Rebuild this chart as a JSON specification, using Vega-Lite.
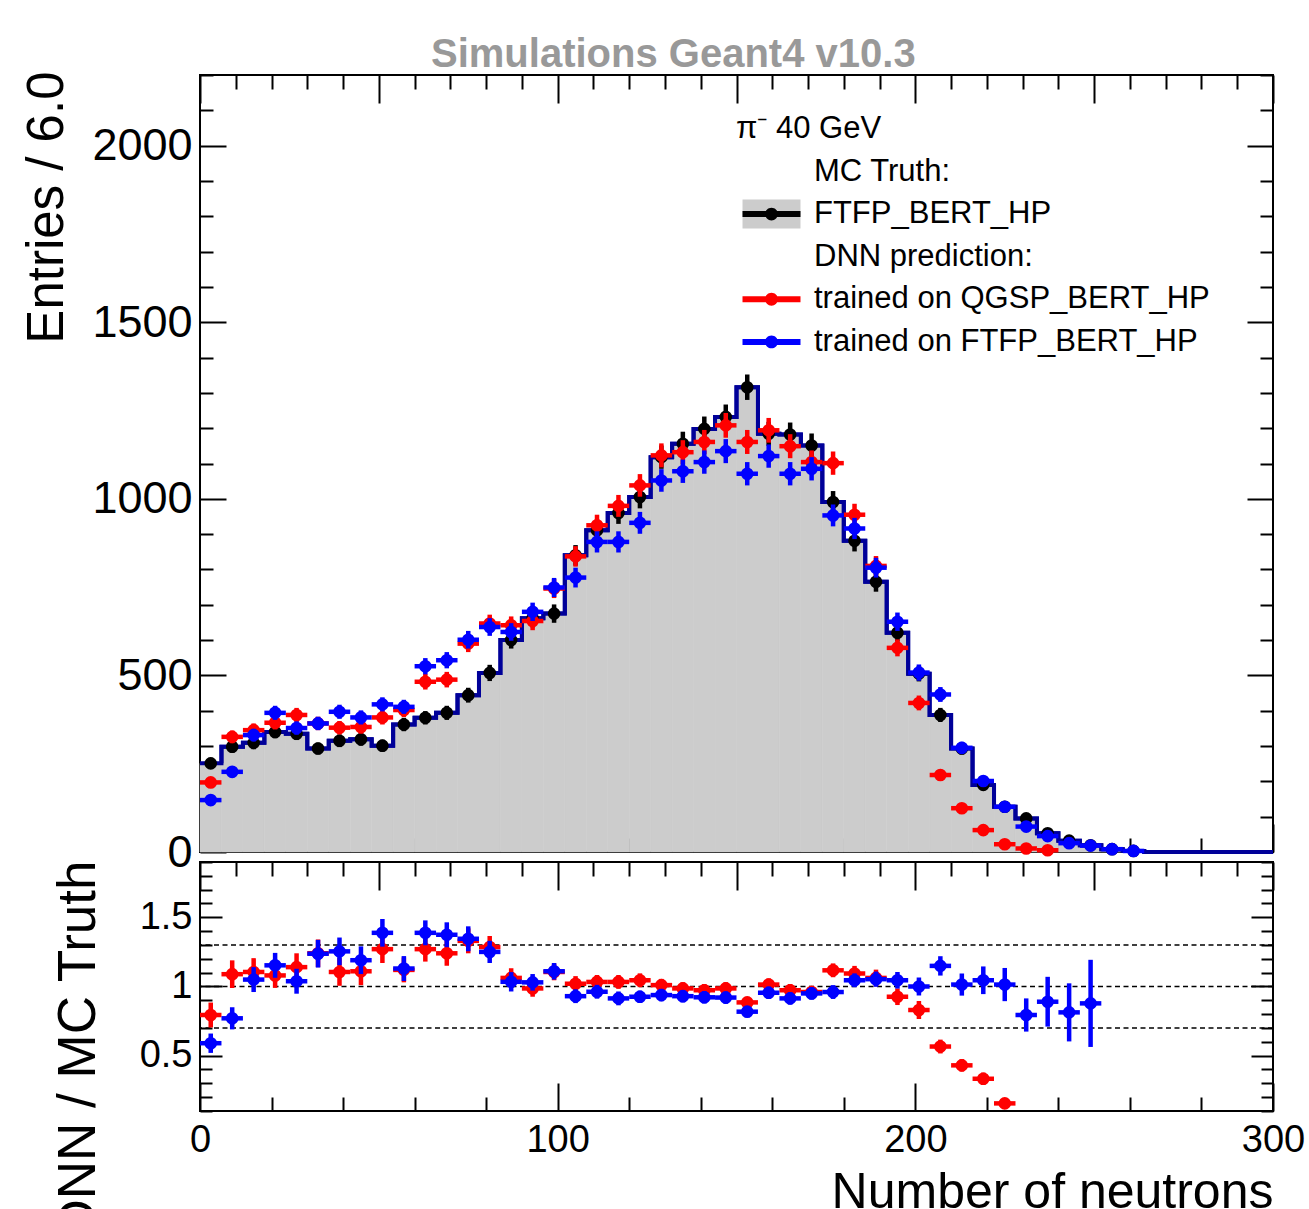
{
  "$schema": "https://vega.github.io/schema/vega-lite/v6.json",
  "background": "white",
  "padding": {"left": 19, "top": 34, "right": 5, "bottom": 5},
  "bounds": "flush",
  "spacing": 10,
  "config": {
    "font": "Liberation Sans",
    "view": {"stroke": "black", "strokeWidth": 2},
    "axis": {"grid": false, "domain": false, "tickColor": "black", "tickWidth": 2, "labelColor": "black", "titleColor": "black", "titleFontWeight": "normal", "labelFont": "Liberation Sans", "titleFont": "Liberation Sans"}
  },
  "datasets": {
    "top": [
      {"s":"FTFP_BERT_HP","x":3,"lo":0,"hi":6,"v":251,"e":16},
      {"s":"FTFP_BERT_HP","x":9,"lo":6,"hi":12,"v":298,"e":17},
      {"s":"FTFP_BERT_HP","x":15,"lo":12,"hi":18,"v":309,"e":18},
      {"s":"FTFP_BERT_HP","x":21,"lo":18,"hi":24,"v":340,"e":18},
      {"s":"FTFP_BERT_HP","x":27,"lo":24,"hi":30,"v":335,"e":18},
      {"s":"FTFP_BERT_HP","x":33,"lo":30,"hi":36,"v":293,"e":17},
      {"s":"FTFP_BERT_HP","x":39,"lo":36,"hi":42,"v":315,"e":18},
      {"s":"FTFP_BERT_HP","x":45,"lo":42,"hi":48,"v":319,"e":18},
      {"s":"FTFP_BERT_HP","x":51,"lo":48,"hi":54,"v":301,"e":17},
      {"s":"FTFP_BERT_HP","x":57,"lo":54,"hi":60,"v":361,"e":19},
      {"s":"FTFP_BERT_HP","x":63,"lo":60,"hi":66,"v":380,"e":19},
      {"s":"FTFP_BERT_HP","x":69,"lo":66,"hi":72,"v":394,"e":20},
      {"s":"FTFP_BERT_HP","x":75,"lo":72,"hi":78,"v":444,"e":21},
      {"s":"FTFP_BERT_HP","x":81,"lo":78,"hi":84,"v":507,"e":23},
      {"s":"FTFP_BERT_HP","x":87,"lo":84,"hi":90,"v":600,"e":24},
      {"s":"FTFP_BERT_HP","x":93,"lo":90,"hi":96,"v":662,"e":26},
      {"s":"FTFP_BERT_HP","x":99,"lo":96,"hi":102,"v":675,"e":26},
      {"s":"FTFP_BERT_HP","x":105,"lo":102,"hi":108,"v":840,"e":29},
      {"s":"FTFP_BERT_HP","x":111,"lo":108,"hi":114,"v":911,"e":30},
      {"s":"FTFP_BERT_HP","x":117,"lo":114,"hi":120,"v":960,"e":31},
      {"s":"FTFP_BERT_HP","x":123,"lo":120,"hi":126,"v":1005,"e":32},
      {"s":"FTFP_BERT_HP","x":129,"lo":126,"hi":132,"v":1118,"e":33},
      {"s":"FTFP_BERT_HP","x":135,"lo":132,"hi":138,"v":1156,"e":34},
      {"s":"FTFP_BERT_HP","x":141,"lo":138,"hi":144,"v":1198,"e":35},
      {"s":"FTFP_BERT_HP","x":147,"lo":144,"hi":150,"v":1232,"e":35},
      {"s":"FTFP_BERT_HP","x":153,"lo":150,"hi":156,"v":1316,"e":36},
      {"s":"FTFP_BERT_HP","x":159,"lo":156,"hi":162,"v":1184,"e":34},
      {"s":"FTFP_BERT_HP","x":165,"lo":162,"hi":168,"v":1182,"e":34},
      {"s":"FTFP_BERT_HP","x":171,"lo":168,"hi":174,"v":1151,"e":34},
      {"s":"FTFP_BERT_HP","x":177,"lo":174,"hi":180,"v":991,"e":31},
      {"s":"FTFP_BERT_HP","x":183,"lo":180,"hi":186,"v":881,"e":30},
      {"s":"FTFP_BERT_HP","x":189,"lo":186,"hi":192,"v":765,"e":28},
      {"s":"FTFP_BERT_HP","x":195,"lo":192,"hi":198,"v":621,"e":25},
      {"s":"FTFP_BERT_HP","x":201,"lo":198,"hi":204,"v":505,"e":22},
      {"s":"FTFP_BERT_HP","x":207,"lo":204,"hi":210,"v":388,"e":20},
      {"s":"FTFP_BERT_HP","x":213,"lo":210,"hi":216,"v":293,"e":17},
      {"s":"FTFP_BERT_HP","x":219,"lo":216,"hi":222,"v":190,"e":14},
      {"s":"FTFP_BERT_HP","x":225,"lo":222,"hi":228,"v":128,"e":11},
      {"s":"FTFP_BERT_HP","x":231,"lo":228,"hi":234,"v":95,"e":10},
      {"s":"FTFP_BERT_HP","x":237,"lo":234,"hi":240,"v":53,"e":7},
      {"s":"FTFP_BERT_HP","x":243,"lo":240,"hi":246,"v":32,"e":6},
      {"s":"FTFP_BERT_HP","x":249,"lo":246,"hi":252,"v":19,"e":4},
      {"s":"FTFP_BERT_HP","x":255,"lo":252,"hi":258,"v":8,"e":3},
      {"s":"FTFP_BERT_HP","x":261,"lo":258,"hi":264,"v":3,"e":2},
      {"s":"FTFP_BERT_HP","x":267,"lo":264,"hi":270,"v":0,"e":0},
      {"s":"FTFP_BERT_HP","x":273,"lo":270,"hi":276,"v":0,"e":0},
      {"s":"FTFP_BERT_HP","x":279,"lo":276,"hi":282,"v":0,"e":0},
      {"s":"FTFP_BERT_HP","x":285,"lo":282,"hi":288,"v":0,"e":0},
      {"s":"FTFP_BERT_HP","x":291,"lo":288,"hi":294,"v":0,"e":0},
      {"s":"FTFP_BERT_HP","x":297,"lo":294,"hi":300,"v":0,"e":0},
      {"s":"trained on QGSP_BERT_HP","x":3,"lo":0,"hi":6,"v":197,"e":14},
      {"s":"trained on QGSP_BERT_HP","x":9,"lo":6,"hi":12,"v":326,"e":18},
      {"s":"trained on QGSP_BERT_HP","x":15,"lo":12,"hi":18,"v":345,"e":19},
      {"s":"trained on QGSP_BERT_HP","x":21,"lo":18,"hi":24,"v":366,"e":19},
      {"s":"trained on QGSP_BERT_HP","x":27,"lo":24,"hi":30,"v":388,"e":20},
      {"s":"trained on QGSP_BERT_HP","x":33,"lo":30,"hi":36,"v":364,"e":19},
      {"s":"trained on QGSP_BERT_HP","x":39,"lo":36,"hi":42,"v":352,"e":19},
      {"s":"trained on QGSP_BERT_HP","x":45,"lo":42,"hi":48,"v":354,"e":19},
      {"s":"trained on QGSP_BERT_HP","x":51,"lo":48,"hi":54,"v":381,"e":20},
      {"s":"trained on QGSP_BERT_HP","x":57,"lo":54,"hi":60,"v":402,"e":20},
      {"s":"trained on QGSP_BERT_HP","x":63,"lo":60,"hi":66,"v":482,"e":22},
      {"s":"trained on QGSP_BERT_HP","x":69,"lo":66,"hi":72,"v":488,"e":22},
      {"s":"trained on QGSP_BERT_HP","x":75,"lo":72,"hi":78,"v":590,"e":24},
      {"s":"trained on QGSP_BERT_HP","x":81,"lo":78,"hi":84,"v":647,"e":25},
      {"s":"trained on QGSP_BERT_HP","x":87,"lo":84,"hi":90,"v":642,"e":25},
      {"s":"trained on QGSP_BERT_HP","x":93,"lo":90,"hi":96,"v":654,"e":26},
      {"s":"trained on QGSP_BERT_HP","x":99,"lo":96,"hi":102,"v":746,"e":27},
      {"s":"trained on QGSP_BERT_HP","x":105,"lo":102,"hi":108,"v":837,"e":29},
      {"s":"trained on QGSP_BERT_HP","x":111,"lo":108,"hi":114,"v":925,"e":30},
      {"s":"trained on QGSP_BERT_HP","x":117,"lo":114,"hi":120,"v":980,"e":31},
      {"s":"trained on QGSP_BERT_HP","x":123,"lo":120,"hi":126,"v":1038,"e":32},
      {"s":"trained on QGSP_BERT_HP","x":129,"lo":126,"hi":132,"v":1123,"e":34},
      {"s":"trained on QGSP_BERT_HP","x":135,"lo":132,"hi":138,"v":1132,"e":34},
      {"s":"trained on QGSP_BERT_HP","x":141,"lo":138,"hi":144,"v":1161,"e":34},
      {"s":"trained on QGSP_BERT_HP","x":147,"lo":144,"hi":150,"v":1208,"e":35},
      {"s":"trained on QGSP_BERT_HP","x":153,"lo":150,"hi":156,"v":1161,"e":34},
      {"s":"trained on QGSP_BERT_HP","x":159,"lo":156,"hi":162,"v":1194,"e":35},
      {"s":"trained on QGSP_BERT_HP","x":165,"lo":162,"hi":168,"v":1149,"e":34},
      {"s":"trained on QGSP_BERT_HP","x":171,"lo":168,"hi":174,"v":1104,"e":33},
      {"s":"trained on QGSP_BERT_HP","x":177,"lo":174,"hi":180,"v":1101,"e":33},
      {"s":"trained on QGSP_BERT_HP","x":183,"lo":180,"hi":186,"v":955,"e":31},
      {"s":"trained on QGSP_BERT_HP","x":189,"lo":186,"hi":192,"v":810,"e":28},
      {"s":"trained on QGSP_BERT_HP","x":195,"lo":192,"hi":198,"v":578,"e":24},
      {"s":"trained on QGSP_BERT_HP","x":201,"lo":198,"hi":204,"v":422,"e":21},
      {"s":"trained on QGSP_BERT_HP","x":207,"lo":204,"hi":210,"v":218,"e":15},
      {"s":"trained on QGSP_BERT_HP","x":213,"lo":210,"hi":216,"v":124,"e":11},
      {"s":"trained on QGSP_BERT_HP","x":219,"lo":216,"hi":222,"v":62,"e":8},
      {"s":"trained on QGSP_BERT_HP","x":225,"lo":222,"hi":228,"v":22,"e":5},
      {"s":"trained on QGSP_BERT_HP","x":231,"lo":228,"hi":234,"v":10,"e":3},
      {"s":"trained on QGSP_BERT_HP","x":237,"lo":234,"hi":240,"v":5,"e":2},
      {"s":"trained on FTFP_BERT_HP","x":3,"lo":0,"hi":6,"v":147,"e":12},
      {"s":"trained on FTFP_BERT_HP","x":9,"lo":6,"hi":12,"v":227,"e":15},
      {"s":"trained on FTFP_BERT_HP","x":15,"lo":12,"hi":18,"v":331,"e":18},
      {"s":"trained on FTFP_BERT_HP","x":21,"lo":18,"hi":24,"v":394,"e":20},
      {"s":"trained on FTFP_BERT_HP","x":27,"lo":24,"hi":30,"v":351,"e":19},
      {"s":"trained on FTFP_BERT_HP","x":33,"lo":30,"hi":36,"v":364,"e":19},
      {"s":"trained on FTFP_BERT_HP","x":39,"lo":36,"hi":42,"v":397,"e":20},
      {"s":"trained on FTFP_BERT_HP","x":45,"lo":42,"hi":48,"v":381,"e":20},
      {"s":"trained on FTFP_BERT_HP","x":51,"lo":48,"hi":54,"v":418,"e":20},
      {"s":"trained on FTFP_BERT_HP","x":57,"lo":54,"hi":60,"v":411,"e":20},
      {"s":"trained on FTFP_BERT_HP","x":63,"lo":60,"hi":66,"v":526,"e":23},
      {"s":"trained on FTFP_BERT_HP","x":69,"lo":66,"hi":72,"v":543,"e":23},
      {"s":"trained on FTFP_BERT_HP","x":75,"lo":72,"hi":78,"v":601,"e":25},
      {"s":"trained on FTFP_BERT_HP","x":81,"lo":78,"hi":84,"v":637,"e":25},
      {"s":"trained on FTFP_BERT_HP","x":87,"lo":84,"hi":90,"v":623,"e":25},
      {"s":"trained on FTFP_BERT_HP","x":93,"lo":90,"hi":96,"v":680,"e":26},
      {"s":"trained on FTFP_BERT_HP","x":99,"lo":96,"hi":102,"v":749,"e":27},
      {"s":"trained on FTFP_BERT_HP","x":105,"lo":102,"hi":108,"v":777,"e":28},
      {"s":"trained on FTFP_BERT_HP","x":111,"lo":108,"hi":114,"v":878,"e":30},
      {"s":"trained on FTFP_BERT_HP","x":117,"lo":114,"hi":120,"v":878,"e":30},
      {"s":"trained on FTFP_BERT_HP","x":123,"lo":120,"hi":126,"v":932,"e":31},
      {"s":"trained on FTFP_BERT_HP","x":129,"lo":126,"hi":132,"v":1052,"e":32},
      {"s":"trained on FTFP_BERT_HP","x":135,"lo":132,"hi":138,"v":1078,"e":33},
      {"s":"trained on FTFP_BERT_HP","x":141,"lo":138,"hi":144,"v":1104,"e":33},
      {"s":"trained on FTFP_BERT_HP","x":147,"lo":144,"hi":150,"v":1135,"e":34},
      {"s":"trained on FTFP_BERT_HP","x":153,"lo":150,"hi":156,"v":1071,"e":33},
      {"s":"trained on FTFP_BERT_HP","x":159,"lo":156,"hi":162,"v":1121,"e":33},
      {"s":"trained on FTFP_BERT_HP","x":165,"lo":162,"hi":168,"v":1071,"e":33},
      {"s":"trained on FTFP_BERT_HP","x":171,"lo":168,"hi":174,"v":1085,"e":33},
      {"s":"trained on FTFP_BERT_HP","x":177,"lo":174,"hi":180,"v":953,"e":31},
      {"s":"trained on FTFP_BERT_HP","x":183,"lo":180,"hi":186,"v":916,"e":30},
      {"s":"trained on FTFP_BERT_HP","x":189,"lo":186,"hi":192,"v":805,"e":28},
      {"s":"trained on FTFP_BERT_HP","x":195,"lo":192,"hi":198,"v":652,"e":26},
      {"s":"trained on FTFP_BERT_HP","x":201,"lo":198,"hi":204,"v":508,"e":23},
      {"s":"trained on FTFP_BERT_HP","x":207,"lo":204,"hi":210,"v":446,"e":21},
      {"s":"trained on FTFP_BERT_HP","x":213,"lo":210,"hi":216,"v":295,"e":17},
      {"s":"trained on FTFP_BERT_HP","x":219,"lo":216,"hi":222,"v":201,"e":14},
      {"s":"trained on FTFP_BERT_HP","x":225,"lo":222,"hi":228,"v":128,"e":11},
      {"s":"trained on FTFP_BERT_HP","x":231,"lo":228,"hi":234,"v":72,"e":8},
      {"s":"trained on FTFP_BERT_HP","x":237,"lo":234,"hi":240,"v":45,"e":7},
      {"s":"trained on FTFP_BERT_HP","x":243,"lo":240,"hi":246,"v":25,"e":5},
      {"s":"trained on FTFP_BERT_HP","x":249,"lo":246,"hi":252,"v":18,"e":4},
      {"s":"trained on FTFP_BERT_HP","x":255,"lo":252,"hi":258,"v":8,"e":3},
      {"s":"trained on FTFP_BERT_HP","x":261,"lo":258,"hi":264,"v":3,"e":2}
    ],
    "ratio": [
      {"s":"trained on QGSP_BERT_HP","x":3,"lo":0,"hi":6,"r":0.794,"e":0.09},
      {"s":"trained on QGSP_BERT_HP","x":9,"lo":6,"hi":12,"r":1.089,"e":0.1},
      {"s":"trained on QGSP_BERT_HP","x":15,"lo":12,"hi":18,"r":1.105,"e":0.1},
      {"s":"trained on QGSP_BERT_HP","x":21,"lo":18,"hi":24,"r":1.08,"e":0.09},
      {"s":"trained on QGSP_BERT_HP","x":27,"lo":24,"hi":30,"r":1.14,"e":0.1},
      {"s":"trained on QGSP_BERT_HP","x":33,"lo":30,"hi":36,"r":1.24,"e":0.1},
      {"s":"trained on QGSP_BERT_HP","x":39,"lo":36,"hi":42,"r":1.105,"e":0.1},
      {"s":"trained on QGSP_BERT_HP","x":45,"lo":42,"hi":48,"r":1.11,"e":0.1},
      {"s":"trained on QGSP_BERT_HP","x":51,"lo":48,"hi":54,"r":1.27,"e":0.1},
      {"s":"trained on QGSP_BERT_HP","x":57,"lo":54,"hi":60,"r":1.12,"e":0.09},
      {"s":"trained on QGSP_BERT_HP","x":63,"lo":60,"hi":66,"r":1.27,"e":0.09},
      {"s":"trained on QGSP_BERT_HP","x":69,"lo":66,"hi":72,"r":1.24,"e":0.09},
      {"s":"trained on QGSP_BERT_HP","x":75,"lo":72,"hi":78,"r":1.33,"e":0.09},
      {"s":"trained on QGSP_BERT_HP","x":81,"lo":78,"hi":84,"r":1.285,"e":0.08},
      {"s":"trained on QGSP_BERT_HP","x":87,"lo":84,"hi":90,"r":1.062,"e":0.07},
      {"s":"trained on QGSP_BERT_HP","x":93,"lo":90,"hi":96,"r":0.986,"e":0.06},
      {"s":"trained on QGSP_BERT_HP","x":99,"lo":96,"hi":102,"r":1.105,"e":0.06},
      {"s":"trained on QGSP_BERT_HP","x":105,"lo":102,"hi":108,"r":1.02,"e":0.055},
      {"s":"trained on QGSP_BERT_HP","x":111,"lo":108,"hi":114,"r":1.033,"e":0.05},
      {"s":"trained on QGSP_BERT_HP","x":117,"lo":114,"hi":120,"r":1.033,"e":0.05},
      {"s":"trained on QGSP_BERT_HP","x":123,"lo":120,"hi":126,"r":1.045,"e":0.05},
      {"s":"trained on QGSP_BERT_HP","x":129,"lo":126,"hi":132,"r":1.01,"e":0.045},
      {"s":"trained on QGSP_BERT_HP","x":135,"lo":132,"hi":138,"r":0.986,"e":0.045},
      {"s":"trained on QGSP_BERT_HP","x":141,"lo":138,"hi":144,"r":0.973,"e":0.045},
      {"s":"trained on QGSP_BERT_HP","x":147,"lo":144,"hi":150,"r":0.986,"e":0.045},
      {"s":"trained on QGSP_BERT_HP","x":153,"lo":150,"hi":156,"r":0.885,"e":0.04},
      {"s":"trained on QGSP_BERT_HP","x":159,"lo":156,"hi":162,"r":1.014,"e":0.045},
      {"s":"trained on QGSP_BERT_HP","x":165,"lo":162,"hi":168,"r":0.973,"e":0.045},
      {"s":"trained on QGSP_BERT_HP","x":171,"lo":168,"hi":174,"r":0.96,"e":0.045},
      {"s":"trained on QGSP_BERT_HP","x":177,"lo":174,"hi":180,"r":1.117,"e":0.05},
      {"s":"trained on QGSP_BERT_HP","x":183,"lo":180,"hi":186,"r":1.094,"e":0.055},
      {"s":"trained on QGSP_BERT_HP","x":189,"lo":186,"hi":192,"r":1.062,"e":0.06},
      {"s":"trained on QGSP_BERT_HP","x":195,"lo":192,"hi":198,"r":0.926,"e":0.06},
      {"s":"trained on QGSP_BERT_HP","x":201,"lo":198,"hi":204,"r":0.83,"e":0.065},
      {"s":"trained on QGSP_BERT_HP","x":207,"lo":204,"hi":210,"r":0.566,"e":0.05},
      {"s":"trained on QGSP_BERT_HP","x":213,"lo":210,"hi":216,"r":0.43,"e":0.045},
      {"s":"trained on QGSP_BERT_HP","x":219,"lo":216,"hi":222,"r":0.333,"e":0.045},
      {"s":"trained on QGSP_BERT_HP","x":225,"lo":222,"hi":228,"r":0.155,"e":0.03},
      {"s":"trained on FTFP_BERT_HP","x":3,"lo":0,"hi":6,"r":0.59,"e":0.07},
      {"s":"trained on FTFP_BERT_HP","x":9,"lo":6,"hi":12,"r":0.77,"e":0.08},
      {"s":"trained on FTFP_BERT_HP","x":15,"lo":12,"hi":18,"r":1.05,"e":0.09},
      {"s":"trained on FTFP_BERT_HP","x":21,"lo":18,"hi":24,"r":1.153,"e":0.09},
      {"s":"trained on FTFP_BERT_HP","x":27,"lo":24,"hi":30,"r":1.038,"e":0.09},
      {"s":"trained on FTFP_BERT_HP","x":33,"lo":30,"hi":36,"r":1.237,"e":0.1},
      {"s":"trained on FTFP_BERT_HP","x":39,"lo":36,"hi":42,"r":1.254,"e":0.1},
      {"s":"trained on FTFP_BERT_HP","x":45,"lo":42,"hi":48,"r":1.19,"e":0.1},
      {"s":"trained on FTFP_BERT_HP","x":51,"lo":48,"hi":54,"r":1.388,"e":0.1},
      {"s":"trained on FTFP_BERT_HP","x":57,"lo":54,"hi":60,"r":1.13,"e":0.09},
      {"s":"trained on FTFP_BERT_HP","x":63,"lo":60,"hi":66,"r":1.388,"e":0.09},
      {"s":"trained on FTFP_BERT_HP","x":69,"lo":66,"hi":72,"r":1.374,"e":0.09},
      {"s":"trained on FTFP_BERT_HP","x":75,"lo":72,"hi":78,"r":1.345,"e":0.09},
      {"s":"trained on FTFP_BERT_HP","x":81,"lo":78,"hi":84,"r":1.25,"e":0.08},
      {"s":"trained on FTFP_BERT_HP","x":87,"lo":84,"hi":90,"r":1.034,"e":0.07},
      {"s":"trained on FTFP_BERT_HP","x":93,"lo":90,"hi":96,"r":1.03,"e":0.06},
      {"s":"trained on FTFP_BERT_HP","x":99,"lo":96,"hi":102,"r":1.11,"e":0.06},
      {"s":"trained on FTFP_BERT_HP","x":105,"lo":102,"hi":108,"r":0.93,"e":0.05},
      {"s":"trained on FTFP_BERT_HP","x":111,"lo":108,"hi":114,"r":0.962,"e":0.05},
      {"s":"trained on FTFP_BERT_HP","x":117,"lo":114,"hi":120,"r":0.914,"e":0.05},
      {"s":"trained on FTFP_BERT_HP","x":123,"lo":120,"hi":126,"r":0.926,"e":0.045},
      {"s":"trained on FTFP_BERT_HP","x":129,"lo":126,"hi":132,"r":0.938,"e":0.045},
      {"s":"trained on FTFP_BERT_HP","x":135,"lo":132,"hi":138,"r":0.93,"e":0.045},
      {"s":"trained on FTFP_BERT_HP","x":141,"lo":138,"hi":144,"r":0.922,"e":0.045},
      {"s":"trained on FTFP_BERT_HP","x":147,"lo":144,"hi":150,"r":0.92,"e":0.045},
      {"s":"trained on FTFP_BERT_HP","x":153,"lo":150,"hi":156,"r":0.818,"e":0.04},
      {"s":"trained on FTFP_BERT_HP","x":159,"lo":156,"hi":162,"r":0.955,"e":0.045},
      {"s":"trained on FTFP_BERT_HP","x":165,"lo":162,"hi":168,"r":0.914,"e":0.045},
      {"s":"trained on FTFP_BERT_HP","x":171,"lo":168,"hi":174,"r":0.95,"e":0.045},
      {"s":"trained on FTFP_BERT_HP","x":177,"lo":174,"hi":180,"r":0.96,"e":0.05},
      {"s":"trained on FTFP_BERT_HP","x":183,"lo":180,"hi":186,"r":1.045,"e":0.05},
      {"s":"trained on FTFP_BERT_HP","x":189,"lo":186,"hi":192,"r":1.053,"e":0.055},
      {"s":"trained on FTFP_BERT_HP","x":195,"lo":192,"hi":198,"r":1.045,"e":0.06},
      {"s":"trained on FTFP_BERT_HP","x":201,"lo":198,"hi":204,"r":1.0,"e":0.065},
      {"s":"trained on FTFP_BERT_HP","x":207,"lo":204,"hi":210,"r":1.149,"e":0.07},
      {"s":"trained on FTFP_BERT_HP","x":213,"lo":210,"hi":216,"r":1.014,"e":0.08},
      {"s":"trained on FTFP_BERT_HP","x":219,"lo":216,"hi":222,"r":1.045,"e":0.1},
      {"s":"trained on FTFP_BERT_HP","x":225,"lo":222,"hi":228,"r":1.014,"e":0.12},
      {"s":"trained on FTFP_BERT_HP","x":231,"lo":228,"hi":234,"r":0.794,"e":0.12},
      {"s":"trained on FTFP_BERT_HP","x":237,"lo":234,"hi":240,"r":0.89,"e":0.18},
      {"s":"trained on FTFP_BERT_HP","x":243,"lo":240,"hi":246,"r":0.813,"e":0.21},
      {"s":"trained on FTFP_BERT_HP","x":249,"lo":246,"hi":252,"r":0.878,"e":0.315}
    ],
    "refs": [{"ref": 0.7}, {"ref": 1}, {"ref": 1.3}]
  },
  "vconcat": [
    {
      "width": 1073,
      "height": 777,
      "title": {"text": "Simulations Geant4 v10.3", "anchor": "start", "dx": 410, "fontSize": 40, "fontWeight": "bold", "color": "#999999", "font": "Liberation Sans", "baseline": "alphabetic", "offset": -36},
      "resolve": {"axis": {"x": "independent", "y": "independent"}},
      "layer": [
        {
          "data": {"name": "top"},
          "transform": [{"filter": "datum.s === 'FTFP_BERT_HP'"}],
          "mark": {"type": "bar", "stroke": "#cccccc", "strokeWidth": 0.6},
          "encoding": {
            "x": {"field": "lo", "type": "quantitative", "scale": {"domain": [0, 300], "nice": false, "zero": false},
                  "axis": {"orient": "bottom", "values": [0,20,40,60,80,100,120,140,160,180,200,220,240,260,280,300], "tickSize": {"condition": {"test": "datum.value % 100 === 0", "value": -28}, "value": -14}, "labels": false, "title": null, "minExtent": 0, "maxExtent": 0}},
            "x2": {"field": "hi"},
            "y": {"field": "v", "type": "quantitative", "scale": {"domain": [0, 2200], "nice": false, "zero": false},
                  "axis": {"orient": "left", "values": [0,500,1000,1500,2000], "ticks": false, "labelFontSize": 45, "labelPadding": 8, "format": "d",
                           "title": "Entries / 6.0", "titleFontSize": 51, "titleX": -138, "titleY": -4, "titleAngle": -90, "titleAlign": "right", "titleBaseline": "alphabetic"}},
            "y2": {"datum": 0},
            "fill": {"datum": "FTFP_BERT_HP", "scale": {"domain": ["a", "FTFP_BERT_HP", "b", "c", "d"], "range": ["transparent", "#cccccc", "transparent", "transparent", "transparent"]},
                     "legend": {"orient": "none", "legendX": 536, "legendY": 39, "padding": 0, "title": "π⁻ 40 GeV", "titleFontSize": 31, "titleFontWeight": "normal", "titleColor": "transparent", "titleFont": "Liberation Sans", "titlePadding": 11, "titleLimit": 1000,
                                "symbolType": "M-1.933,-0.967H1.933V0.967H-1.933Z", "symbolSize": 900, "symbolOffset": 20, "symbolStrokeWidth": 0, "symbolOpacity": 1,
                                "labelFontSize": 31, "labelFont": "Liberation Sans", "labelColor": "transparent", "labelLimit": 1000, "labelOffset": 27, "rowPadding": 10.6}}
          }
        },
        {
          "data": {"name": "top"},
          "transform": [{"filter": "datum.s === 'FTFP_BERT_HP' && datum.v > 0"}],
          "mark": {"type": "errorbar", "thickness": 4.5, "rule": {"strokeWidth": 4.5}},
          "encoding": {
            "x": {"field": "x", "type": "quantitative", "axis": null},
            "y": {"field": "v", "type": "quantitative", "axis": null},
            "yError": {"field": "e"},
            "color": {"field": "s", "type": "nominal"}
          }
        },
        {
          "data": {"name": "top"},
          "transform": [{"filter": "datum.s === 'FTFP_BERT_HP'"}],
          "mark": {"type": "line", "interpolate": "step-after", "color": "#000099", "strokeWidth": 4},
          "encoding": {
            "x": {"field": "lo", "type": "quantitative", "scale": {"domain": [0, 300], "nice": false, "zero": false},
                  "axis": {"orient": "top", "values": [0,10,20,30,40,50,60,70,80,90,100,110,120,130,140,150,160,170,180,190,200,210,220,230,240,250,260,270,280,290,300], "tickSize": {"condition": {"test": "datum.value % 50 === 0", "value": -28}, "value": -14}, "labels": false, "title": null, "minExtent": 0, "maxExtent": 0}},
            "y": {"field": "v", "type": "quantitative",
                  "axis": {"orient": "left", "values": [0,100,200,300,400,500,600,700,800,900,1000,1100,1200,1300,1400,1500,1600,1700,1800,1900,2000,2100,2200], "tickSize": {"condition": {"test": "datum.value % 500 === 0", "value": -26}, "value": -13}, "labels": false, "title": null, "minExtent": 0, "maxExtent": 0}}
          }
        },
        {
          "data": {"name": "top"},
          "transform": [{"filter": "datum.s === 'FTFP_BERT_HP'"}],
          "mark": {"type": "line", "interpolate": "step-before", "color": "#000099", "strokeWidth": 4},
          "encoding": {
            "x": {"field": "hi", "type": "quantitative", "axis": null},
            "y": {"field": "v", "type": "quantitative",
                  "axis": {"orient": "right", "values": [0,100,200,300,400,500,600,700,800,900,1000,1100,1200,1300,1400,1500,1600,1700,1800,1900,2000,2100,2200], "tickSize": {"condition": {"test": "datum.value % 500 === 0", "value": -26}, "value": -13}, "labels": false, "title": null, "minExtent": 0, "maxExtent": 0}}
          }
        },
        {
          "data": {"name": "top"},
          "transform": [{"filter": "datum.s === 'FTFP_BERT_HP' && datum.v > 0"}],
          "mark": {"type": "point", "shape": "circle", "filled": true, "size": 160, "opacity": 1, "strokeWidth": 0},
          "encoding": {
            "x": {"field": "x", "type": "quantitative", "axis": null},
            "y": {"field": "v", "type": "quantitative", "axis": null},
            "color": {"field": "s", "type": "nominal",
                      "scale": {"domain": ["MC Truth:", "FTFP_BERT_HP", "DNN prediction:", "trained on QGSP_BERT_HP", "trained on FTFP_BERT_HP"], "range": ["transparent", "#000000", "transparent", "#ff0000", "#0000ff"]},
                      "legend": {"orient": "none", "legendX": 536, "legendY": 39, "padding": 0, "title": "π⁻ 40 GeV", "titleFontSize": 31, "titleFontWeight": "normal", "titleColor": "black", "titleFont": "Liberation Sans", "titlePadding": 11, "titleLimit": 1000,
                                 "symbolType": "M-1.933,-0.2H1.933V0.2H-1.933ZM0.43,0A0.43,0.43,0,1,1,-0.43,0A0.43,0.43,0,1,1,0.43,0Z", "symbolSize": 900, "symbolOffset": 20, "symbolStrokeWidth": 0, "symbolOpacity": 1,
                                 "labelFontSize": 31, "labelFont": "Liberation Sans", "labelColor": "black", "labelLimit": 1000, "labelOffset": 27, "rowPadding": 10.6}}
          }
        },
        {
          "data": {"name": "top"},
          "transform": [{"filter": "datum.s === 'trained on QGSP_BERT_HP'"}],
          "mark": {"type": "rule", "strokeWidth": 4.5},
          "encoding": {
            "x": {"field": "lo", "type": "quantitative", "axis": null},
            "x2": {"field": "hi"},
            "y": {"field": "v", "type": "quantitative", "axis": null},
            "color": {"field": "s", "type": "nominal"}
          }
        },
        {
          "data": {"name": "top"},
          "transform": [{"filter": "datum.s === 'trained on QGSP_BERT_HP'"}],
          "mark": {"type": "errorbar", "thickness": 4.5, "rule": {"strokeWidth": 4.5}},
          "encoding": {
            "x": {"field": "x", "type": "quantitative", "axis": null},
            "y": {"field": "v", "type": "quantitative", "axis": null},
            "yError": {"field": "e"},
            "color": {"field": "s", "type": "nominal"}
          }
        },
        {
          "data": {"name": "top"},
          "transform": [{"filter": "datum.s === 'trained on QGSP_BERT_HP'"}],
          "mark": {"type": "point", "shape": "circle", "filled": true, "size": 160, "opacity": 1, "strokeWidth": 0},
          "encoding": {
            "x": {"field": "x", "type": "quantitative", "axis": null},
            "y": {"field": "v", "type": "quantitative", "axis": null},
            "color": {"field": "s", "type": "nominal"}
          }
        },
        {
          "data": {"name": "top"},
          "transform": [{"filter": "datum.s === 'trained on FTFP_BERT_HP'"}],
          "mark": {"type": "rule", "strokeWidth": 4.5},
          "encoding": {
            "x": {"field": "lo", "type": "quantitative", "axis": null},
            "x2": {"field": "hi"},
            "y": {"field": "v", "type": "quantitative", "axis": null},
            "color": {"field": "s", "type": "nominal"}
          }
        },
        {
          "data": {"name": "top"},
          "transform": [{"filter": "datum.s === 'trained on FTFP_BERT_HP'"}],
          "mark": {"type": "errorbar", "thickness": 4.5, "rule": {"strokeWidth": 4.5}},
          "encoding": {
            "x": {"field": "x", "type": "quantitative", "axis": null},
            "y": {"field": "v", "type": "quantitative", "axis": null},
            "yError": {"field": "e"},
            "color": {"field": "s", "type": "nominal"}
          }
        },
        {
          "data": {"name": "top"},
          "transform": [{"filter": "datum.s === 'trained on FTFP_BERT_HP'"}],
          "mark": {"type": "point", "shape": "circle", "filled": true, "size": 160, "opacity": 1, "strokeWidth": 0},
          "encoding": {
            "x": {"field": "x", "type": "quantitative", "axis": null},
            "y": {"field": "v", "type": "quantitative", "axis": null},
            "color": {"field": "s", "type": "nominal"}
          }
        }
      ]
    },
    {
      "width": 1073,
      "height": 249,
      "resolve": {"axis": {"x": "independent", "y": "independent"}},
      "layer": [
        {
          "data": {"name": "refs"},
          "mark": {"type": "rule", "strokeDash": [5, 3.5], "strokeWidth": 1.5, "color": "black"},
          "encoding": {
            "y": {"field": "ref", "type": "quantitative", "scale": {"domain": [0.1, 1.9], "nice": false, "zero": false},
                  "axis": {"orient": "left", "values": [0.5, 1, 1.5], "ticks": false, "labelFontSize": 38, "labelPadding": 8, "format": "~g",
                           "title": "DNN / MC Truth", "titleFontSize": 53, "titleX": -106, "titleY": -2, "titleAngle": -90, "titleAlign": "right", "titleBaseline": "alphabetic"}}
          }
        },
        {
          "data": {"name": "ratio"},
          "transform": [{"filter": "datum.s === 'trained on QGSP_BERT_HP'"}],
          "mark": {"type": "rule", "strokeWidth": 4.5},
          "encoding": {
            "x": {"field": "lo", "type": "quantitative", "scale": {"domain": [0, 300], "nice": false, "zero": false},
                  "axis": {"orient": "bottom", "values": [0, 100, 200, 300], "ticks": false, "labelFontSize": 38, "labelPadding": 40, "labelBaseline": "alphabetic", "labelFlush": false, "format": "d",
                           "title": "Number of neutrons", "titleFontSize": 50, "titleX": 1073, "titleY": 96, "titleAlign": "right", "titleBaseline": "alphabetic"}},
            "x2": {"field": "hi"},
            "y": {"field": "r", "type": "quantitative",
                  "axis": {"orient": "left", "values": [0.1,0.2,0.3,0.4,0.5,0.6,0.7,0.8,0.9,1,1.1,1.2,1.3,1.4,1.5,1.6,1.7,1.8,1.9], "tickSize": {"condition": {"test": "datum.value === 0.5 || datum.value === 1 || datum.value === 1.5", "value": -22}, "value": -12}, "labels": false, "title": null, "minExtent": 0, "maxExtent": 0}},
            "color": {"field": "s", "type": "nominal", "scale": {"domain": ["trained on QGSP_BERT_HP", "trained on FTFP_BERT_HP"], "range": ["#ff0000", "#0000ff"]}, "legend": null}
          }
        },
        {
          "data": {"name": "ratio"},
          "transform": [{"filter": "datum.s === 'trained on QGSP_BERT_HP'"}],
          "mark": {"type": "errorbar", "thickness": 4.5, "rule": {"strokeWidth": 4.5}},
          "encoding": {
            "x": {"field": "x", "type": "quantitative", "axis": null},
            "y": {"field": "r", "type": "quantitative", "axis": null},
            "yError": {"field": "e"},
            "color": {"field": "s", "type": "nominal", "legend": null}
          }
        },
        {
          "data": {"name": "ratio"},
          "transform": [{"filter": "datum.s === 'trained on QGSP_BERT_HP'"}],
          "mark": {"type": "point", "shape": "circle", "filled": true, "size": 160, "opacity": 1, "strokeWidth": 0},
          "encoding": {
            "x": {"field": "x", "type": "quantitative",
                  "axis": {"orient": "bottom", "values": [0,20,40,60,80,100,120,140,160,180,200,220,240,260,280,300], "tickSize": {"condition": {"test": "datum.value % 100 === 0", "value": -28}, "value": -14}, "labels": false, "title": null, "minExtent": 0, "maxExtent": 0}},
            "y": {"field": "r", "type": "quantitative",
                  "axis": {"orient": "right", "values": [0.1,0.2,0.3,0.4,0.5,0.6,0.7,0.8,0.9,1,1.1,1.2,1.3,1.4,1.5,1.6,1.7,1.8,1.9], "tickSize": {"condition": {"test": "datum.value === 0.5 || datum.value === 1 || datum.value === 1.5", "value": -22}, "value": -12}, "labels": false, "title": null, "minExtent": 0, "maxExtent": 0}},
            "color": {"field": "s", "type": "nominal", "legend": null}
          }
        },
        {
          "data": {"name": "ratio"},
          "transform": [{"filter": "datum.s === 'trained on FTFP_BERT_HP'"}],
          "mark": {"type": "rule", "strokeWidth": 4.5},
          "encoding": {
            "x": {"field": "lo", "type": "quantitative",
                  "axis": {"orient": "top", "values": [0,10,20,30,40,50,60,70,80,90,100,110,120,130,140,150,160,170,180,190,200,210,220,230,240,250,260,270,280,290,300], "tickSize": {"condition": {"test": "datum.value % 50 === 0", "value": -28}, "value": -14}, "labels": false, "title": null, "minExtent": 0, "maxExtent": 0}},
            "x2": {"field": "hi"},
            "y": {"field": "r", "type": "quantitative", "axis": null},
            "color": {"field": "s", "type": "nominal", "legend": null}
          }
        },
        {
          "data": {"name": "ratio"},
          "transform": [{"filter": "datum.s === 'trained on FTFP_BERT_HP'"}],
          "mark": {"type": "errorbar", "thickness": 4.5, "rule": {"strokeWidth": 4.5}},
          "encoding": {
            "x": {"field": "x", "type": "quantitative", "axis": null},
            "y": {"field": "r", "type": "quantitative", "axis": null},
            "yError": {"field": "e"},
            "color": {"field": "s", "type": "nominal", "legend": null}
          }
        },
        {
          "data": {"name": "ratio"},
          "transform": [{"filter": "datum.s === 'trained on FTFP_BERT_HP'"}],
          "mark": {"type": "point", "shape": "circle", "filled": true, "size": 160, "opacity": 1, "strokeWidth": 0},
          "encoding": {
            "x": {"field": "x", "type": "quantitative", "axis": null},
            "y": {"field": "r", "type": "quantitative", "axis": null},
            "color": {"field": "s", "type": "nominal", "legend": null}
          }
        }
      ]
    }
  ]
}
